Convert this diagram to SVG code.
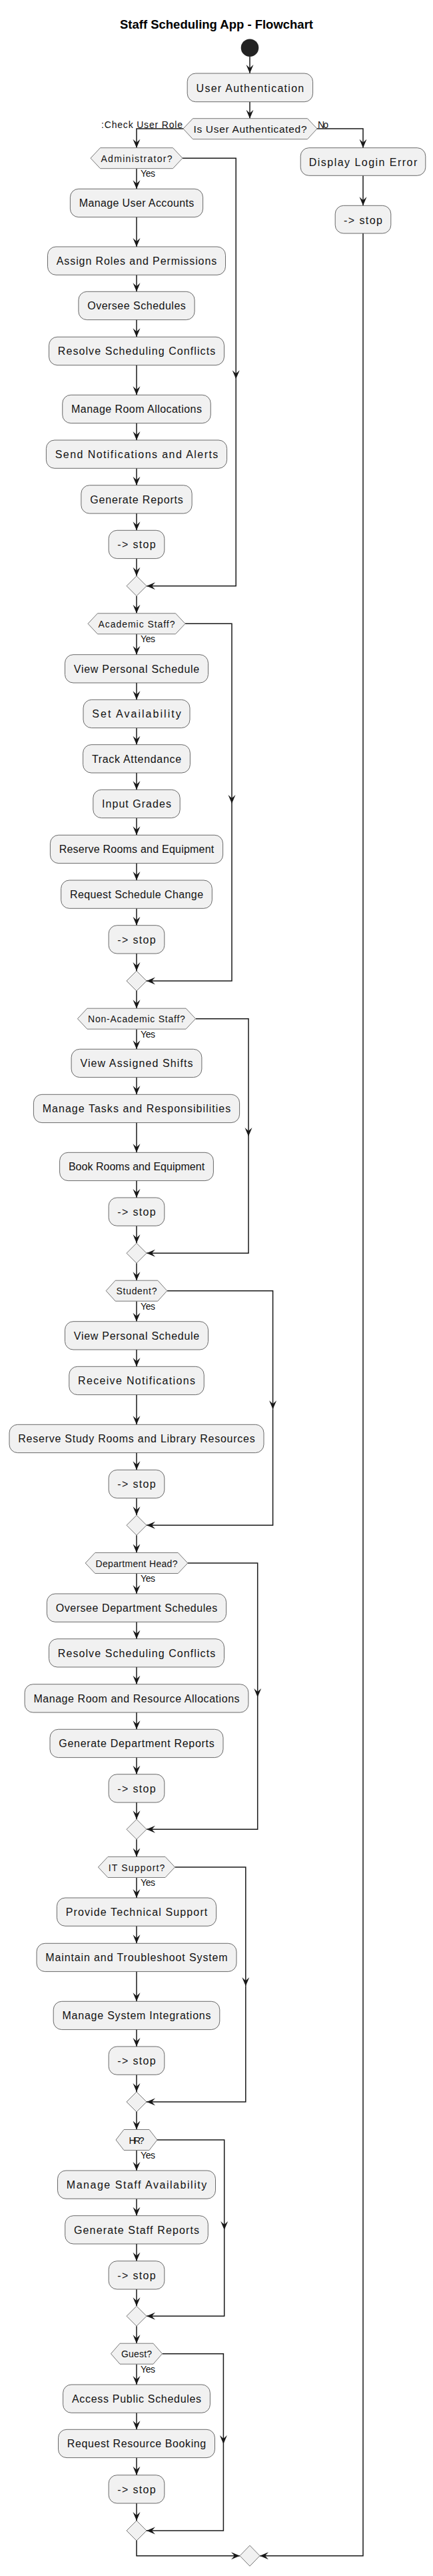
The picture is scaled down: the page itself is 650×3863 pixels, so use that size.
<svg xmlns="http://www.w3.org/2000/svg" xmlns:xlink="http://www.w3.org/1999/xlink" width="650" height="3863" viewBox="0 0 650 3863">
<style>
.act{fill:#F1F1F1;stroke:#444;stroke-width:0.8}
.hex{fill:#F1F1F1;stroke:#777;stroke-width:1}
.t{font-family:"Liberation Sans",Arial,sans-serif;font-size:16px;fill:#111;text-anchor:middle}
.ht{font-family:"Liberation Sans",Arial,sans-serif;font-size:14px;fill:#111;text-anchor:middle}
.lbl{font-family:"Liberation Sans",Arial,sans-serif;font-size:14px;fill:#111}
.title{font-family:"Liberation Sans",Arial,sans-serif;font-size:18.5px;font-weight:bold;fill:#000;text-anchor:middle}
.c{fill:none;stroke:#181818;stroke-width:1.5}
</style>
<defs>
<marker id="arr" markerUnits="userSpaceOnUse" markerWidth="14" markerHeight="12" refX="13" refY="6" orient="auto" viewBox="0 0 14 12">
<path d="M13,6 L0,0.5 L5,6 L0,11.5 Z" fill="#181818"/>
</marker>
</defs>
<rect width="650" height="3863" fill="#fff"/>
<text class="title" x="325" y="42.5" textLength="290">Staff Scheduling App - Flowchart</text>

<g id="connectors">
<path class="c" marker-end="url(#arr)" d="M375,85 V110"/>
<path class="c" marker-end="url(#arr)" d="M375,152.7 V177.7"/>
<path class="c" marker-end="url(#arr)" d="M275,193 H205 V221.7"/>
<path class="c" marker-end="url(#arr)" d="M476,193 H545 V221.7"/>
<path class="c" marker-end="url(#arr)" d="M545,263.3 V308.3"/>
<path class="c" marker-end="url(#arr)" d="M545,350 V3832.7 H390"/>
<path class="c" marker-end="url(#arr)" d="M205,3810 V3832.7 H360"/>
<!-- main column -->
<path class="c" marker-end="url(#arr)" d="M205,252.7 V283.3"/>
<path class="c" marker-end="url(#arr)" d="M205,325.6 V370"/>
<path class="c" marker-end="url(#arr)" d="M205,412.3 V437.3"/>
<path class="c" marker-end="url(#arr)" d="M205,479.6 V505.3"/>
<path class="c" marker-end="url(#arr)" d="M205,547.6 V592.3"/>
<path class="c" marker-end="url(#arr)" d="M205,634.6 V660"/>
<path class="c" marker-end="url(#arr)" d="M205,702.3 V727.7"/>
<path class="c" marker-end="url(#arr)" d="M205,770 V795.3"/>
<path class="c" marker-end="url(#arr)" d="M205,837.6 V863.7"/>
<path class="c" marker-end="url(#arr)" d="M205,893.7 V919.8"/>
<path class="c" marker-end="url(#arr)" d="M205,950.8 V981.7"/>
<path class="c" marker-end="url(#arr)" d="M205,1024 V1049.3"/>
<path class="c" marker-end="url(#arr)" d="M205,1091.6 V1116.7"/>
<path class="c" marker-end="url(#arr)" d="M205,1159 V1184.3"/>
<path class="c" marker-end="url(#arr)" d="M205,1226.6 V1252.3"/>
<path class="c" marker-end="url(#arr)" d="M205,1294.6 V1320"/>
<path class="c" marker-end="url(#arr)" d="M205,1362.3 V1387.7"/>
<path class="c" marker-end="url(#arr)" d="M205,1430 V1456"/>
<path class="c" marker-end="url(#arr)" d="M205,1486 V1512.2"/>
<path class="c" marker-end="url(#arr)" d="M205,1543.2 V1573.3"/>
<path class="c" marker-end="url(#arr)" d="M205,1615.6 V1641.3"/>
<path class="c" marker-end="url(#arr)" d="M205,1683.6 V1728.3"/>
<path class="c" marker-end="url(#arr)" d="M205,1770.6 V1796"/>
<path class="c" marker-end="url(#arr)" d="M205,1838.3 V1864.3"/>
<path class="c" marker-end="url(#arr)" d="M205,1894.3 V1920.2"/>
<path class="c" marker-end="url(#arr)" d="M205,1951.2 V1981.7"/>
<path class="c" marker-end="url(#arr)" d="M205,2024 V2049.3"/>
<path class="c" marker-end="url(#arr)" d="M205,2091.6 V2136.3"/>
<path class="c" marker-end="url(#arr)" d="M205,2178.6 V2204.3"/>
<path class="c" marker-end="url(#arr)" d="M205,2246.6 V2272.3"/>
<path class="c" marker-end="url(#arr)" d="M205,2302.3 V2328.5"/>
<path class="c" marker-end="url(#arr)" d="M205,2359.5 V2390"/>
<path class="c" marker-end="url(#arr)" d="M205,2432.3 V2457.7"/>
<path class="c" marker-end="url(#arr)" d="M205,2500 V2525.7"/>
<path class="c" marker-end="url(#arr)" d="M205,2568 V2593.3"/>
<path class="c" marker-end="url(#arr)" d="M205,2635.6 V2660.7"/>
<path class="c" marker-end="url(#arr)" d="M205,2703 V2728.3"/>
<path class="c" marker-end="url(#arr)" d="M205,2758.3 V2784.5"/>
<path class="c" marker-end="url(#arr)" d="M205,2815.5 V2846"/>
<path class="c" marker-end="url(#arr)" d="M205,2888.3 V2914.3"/>
<path class="c" marker-end="url(#arr)" d="M205,2956.6 V3001.3"/>
<path class="c" marker-end="url(#arr)" d="M205,3043.6 V3069"/>
<path class="c" marker-end="url(#arr)" d="M205,3111.3 V3137"/>
<path class="c" marker-end="url(#arr)" d="M205,3167 V3193.5"/>
<path class="c" marker-end="url(#arr)" d="M205,3224.5 V3255"/>
<path class="c" marker-end="url(#arr)" d="M205,3297.3 V3322.7"/>
<path class="c" marker-end="url(#arr)" d="M205,3365 V3390.7"/>
<path class="c" marker-end="url(#arr)" d="M205,3433 V3458.3"/>
<path class="c" marker-end="url(#arr)" d="M205,3488.3 V3514.2"/>
<path class="c" marker-end="url(#arr)" d="M205,3545.2 V3576"/>
<path class="c" marker-end="url(#arr)" d="M205,3618.3 V3643.3"/>
<path class="c" marker-end="url(#arr)" d="M205,3685.6 V3711.7"/>
<path class="c" marker-end="url(#arr)" d="M205,3754 V3780"/>
<!-- skip (no) branches -->
<path class="c" marker-end="url(#arr)" d="M274,237.2 H354.2 V568.3"/>
<path class="c" marker-end="url(#arr)" d="M354.2,568.3 V878.7 H220"/>
<path class="c" marker-end="url(#arr)" d="M278,935.3 H348 V1205"/>
<path class="c" marker-end="url(#arr)" d="M348,1205 V1471 H220"/>
<path class="c" marker-end="url(#arr)" d="M293.6,1527.7 H373 V1704"/>
<path class="c" marker-end="url(#arr)" d="M373,1704 V1879.3 H220"/>
<path class="c" marker-end="url(#arr)" d="M250.8,1935.7 H409.6 V2113.3"/>
<path class="c" marker-end="url(#arr)" d="M409.6,2113.3 V2287.3 H220"/>
<path class="c" marker-end="url(#arr)" d="M281.8,2344 H386.7 V2545"/>
<path class="c" marker-end="url(#arr)" d="M386.7,2545 V2743.3 H220"/>
<path class="c" marker-end="url(#arr)" d="M262.6,2800 H368.8 V2978.3"/>
<path class="c" marker-end="url(#arr)" d="M368.8,2978.3 V3152 H220"/>
<path class="c" marker-end="url(#arr)" d="M236,3209 H336.7 V3344"/>
<path class="c" marker-end="url(#arr)" d="M336.7,3344 V3473.3 H220"/>
<path class="c" marker-end="url(#arr)" d="M243.5,3529.7 H335.4 V3665"/>
<path class="c" marker-end="url(#arr)" d="M335.4,3665 V3795 H220"/>
</g>

<g id="labels">
<text class="lbl" x="274" y="191.5" text-anchor="end" textLength="122">:Check User Role</text>
<text class="lbl" x="477" y="191.5" textLength="16">No</text>
<text class="lbl" x="211" y="265" textLength="22">Yes</text>
<text class="lbl" x="211" y="963.3" textLength="22">Yes</text>
<text class="lbl" x="211" y="1555.5" textLength="22">Yes</text>
<text class="lbl" x="211" y="1963.5" textLength="22">Yes</text>
<text class="lbl" x="211" y="2372" textLength="22">Yes</text>
<text class="lbl" x="211" y="2828" textLength="22">Yes</text>
<text class="lbl" x="211" y="3237" textLength="22">Yes</text>
<text class="lbl" x="211" y="3558" textLength="22">Yes</text>
</g>

<g id="start"><circle cx="375" cy="71.7" r="13.3" fill="#222"/></g>

<g id="n_auth"><rect class="act" x="281.2" y="110" width="188.4" height="42.7" rx="12.5"/><text class="t" x="375.4" y="137.5" textLength="161.7">User Authentication</text></g>
<g id="d_auth"><polygon class="hex" points="275,193 289.5,177.7 461.5,177.7 476,193 461.5,208.7 289.5,208.7"/><text class="ht" x="375.5" y="199" style="font-size:15.5px" textLength="170">Is User Authenticated?</text></g>
<g id="n_loginerr"><rect class="act" x="451.2" y="221.7" width="187.6" height="41.6" rx="12.5"/><text class="t" x="545" y="248.7" textLength="162.5">Display Login Error</text></g>
<g id="n_stop0"><rect class="act" x="503.2" y="308.3" width="83.6" height="41.7" rx="12.5"/><text class="t" x="545" y="335.5" textLength="58">-&gt; stop</text></g>

<g id="d_admin"><polygon class="hex" points="136,237.2 150.5,221.7 259.5,221.7 274,237.2 259.5,252.7 150.5,252.7"/><text class="ht" x="205" y="242.6" textLength="107">Administrator?</text></g>
<g id="n_a1"><rect class="act" x="105.4" y="283.3" width="199.2" height="42.3" rx="12.5"/><text class="t" x="205" y="310.3" textLength="172.6">Manage User Accounts</text></g>
<g id="n_a2"><rect class="act" x="71.5" y="370" width="267" height="42.3" rx="12.5"/><text class="t" x="205" y="397" textLength="240.4">Assign Roles and Permissions</text></g>
<g id="n_a3"><rect class="act" x="117.9" y="437.3" width="174.2" height="42.3" rx="12.5"/><text class="t" x="205" y="464.3" textLength="147.6">Oversee Schedules</text></g>
<g id="n_a4"><rect class="act" x="73.5" y="505.3" width="263" height="42.3" rx="12.5"/><text class="t" x="205" y="532.3" textLength="236.4">Resolve Scheduling Conflicts</text></g>
<g id="n_a5"><rect class="act" x="93.75" y="592.3" width="222.5" height="42.3" rx="12.5"/><text class="t" x="205" y="619.3" textLength="195.9">Manage Room Allocations</text></g>
<g id="n_a6"><rect class="act" x="69.4" y="660" width="271.2" height="42.3" rx="12.5"/><text class="t" x="205" y="687" textLength="244.6">Send Notifications and Alerts</text></g>
<g id="n_a7"><rect class="act" x="121.85" y="727.7" width="166.3" height="42.3" rx="12.5"/><text class="t" x="205" y="754.7" textLength="139.7">Generate Reports</text></g>
<g id="n_a8"><rect class="act" x="163.15" y="795.3" width="83.7" height="42.3" rx="12.5"/><text class="t" x="205" y="822.3" textLength="57.5">-&gt; stop</text></g>
<g id="m_admin"><polygon class="hex" points="205,863.7 220,878.7 205,893.7 190,878.7"/></g>

<g id="d_acad"><polygon class="hex" points="132,935.3 146.5,919.8 263.5,919.8 278,935.3 263.5,950.8 146.5,950.8"/><text class="ht" x="205" y="941" textLength="115">Academic Staff?</text></g>
<g id="n_b1"><rect class="act" x="97.5" y="981.7" width="215" height="42.3" rx="12.5"/><text class="t" x="205" y="1008.7" textLength="188.4">View Personal Schedule</text></g>
<g id="n_b2"><rect class="act" x="125" y="1049.3" width="160" height="42.3" rx="12.5"/><text class="t" x="205" y="1076.3" textLength="133.4">Set Availability</text></g>
<g id="n_b3"><rect class="act" x="124.6" y="1116.7" width="160.8" height="42.3" rx="12.5"/><text class="t" x="205" y="1143.7" textLength="134.2">Track Attendance</text></g>
<g id="n_b4"><rect class="act" x="139.8" y="1184.3" width="130.4" height="42.3" rx="12.5"/><text class="t" x="205" y="1211.3" textLength="103.8">Input Grades</text></g>
<g id="n_b5"><rect class="act" x="75.4" y="1252.3" width="259.2" height="42.3" rx="12.5"/><text class="t" x="205" y="1279.3" textLength="232.6">Reserve Rooms and Equipment</text></g>
<g id="n_b6"><rect class="act" x="91.65" y="1320" width="226.7" height="42.3" rx="12.5"/><text class="t" x="205" y="1347" textLength="200.1">Request Schedule Change</text></g>
<g id="n_b7"><rect class="act" x="163.15" y="1387.7" width="83.7" height="42.3" rx="12.5"/><text class="t" x="205" y="1414.7" textLength="57.5">-&gt; stop</text></g>
<g id="m_acad"><polygon class="hex" points="205,1456 220,1471 205,1486 190,1471"/></g>

<g id="d_nonacad"><polygon class="hex" points="116.4,1527.7 130.9,1512.2 279.1,1512.2 293.6,1527.7 279.1,1543.2 130.9,1543.2"/><text class="ht" x="205" y="1533.4" textLength="145.8">Non-Academic Staff?</text></g>
<g id="n_c1"><rect class="act" x="107.1" y="1573.3" width="195.8" height="42.3" rx="12.5"/><text class="t" x="205" y="1600.3" textLength="169.2">View Assigned Shifts</text></g>
<g id="n_c2"><rect class="act" x="50.4" y="1641.3" width="309.2" height="42.3" rx="12.5"/><text class="t" x="205" y="1668.3" textLength="282.6">Manage Tasks and Responsibilities</text></g>
<g id="n_c3"><rect class="act" x="89.6" y="1728.3" width="230.8" height="42.3" rx="12.5"/><text class="t" x="205" y="1755.3" textLength="204.2">Book Rooms and Equipment</text></g>
<g id="n_c4"><rect class="act" x="163.15" y="1796" width="83.7" height="42.3" rx="12.5"/><text class="t" x="205" y="1823" textLength="57.5">-&gt; stop</text></g>
<g id="m_nonacad"><polygon class="hex" points="205,1864.3 220,1879.3 205,1894.3 190,1879.3"/></g>

<g id="d_student"><polygon class="hex" points="159.2,1935.7 173.2,1920.2 236.8,1920.2 250.8,1935.7 236.8,1951.2 173.2,1951.2"/><text class="ht" x="205" y="1941" textLength="61">Student?</text></g>
<g id="n_d1"><rect class="act" x="97.5" y="1981.7" width="215" height="42.3" rx="12.5"/><text class="t" x="205" y="2008.7" textLength="188.4">View Personal Schedule</text></g>
<g id="n_d2"><rect class="act" x="103.75" y="2049.3" width="202.5" height="42.3" rx="12.5"/><text class="t" x="205" y="2076.3" textLength="175.9">Receive Notifications</text></g>
<g id="n_d3"><rect class="act" x="14" y="2136.3" width="382" height="42.3" rx="12.5"/><text class="t" x="205" y="2163.3" textLength="355.4">Reserve Study Rooms and Library Resources</text></g>
<g id="n_d4"><rect class="act" x="163.15" y="2204.3" width="83.7" height="42.3" rx="12.5"/><text class="t" x="205" y="2231.3" textLength="57.5">-&gt; stop</text></g>
<g id="m_student"><polygon class="hex" points="205,2272.3 220,2287.3 205,2302.3 190,2287.3"/></g>

<g id="d_dept"><polygon class="hex" points="128.2,2344 142.7,2328.5 267.3,2328.5 281.8,2344 267.3,2359.5 142.7,2359.5"/><text class="ht" x="205" y="2349.8" textLength="123">Department Head?</text></g>
<g id="n_e1"><rect class="act" x="70.4" y="2390" width="269.2" height="42.3" rx="12.5"/><text class="t" x="205" y="2417" textLength="242.6">Oversee Department Schedules</text></g>
<g id="n_e2"><rect class="act" x="73.5" y="2457.7" width="263" height="42.3" rx="12.5"/><text class="t" x="205" y="2484.7" textLength="236.4">Resolve Scheduling Conflicts</text></g>
<g id="n_e3"><rect class="act" x="37.1" y="2525.7" width="335.8" height="42.3" rx="12.5"/><text class="t" x="205" y="2552.7" textLength="309.2">Manage Room and Resource Allocations</text></g>
<g id="n_e4"><rect class="act" x="75" y="2593.3" width="260" height="42.3" rx="12.5"/><text class="t" x="205" y="2620.3" textLength="233.4">Generate Department Reports</text></g>
<g id="n_e5"><rect class="act" x="163.15" y="2660.7" width="83.7" height="42.3" rx="12.5"/><text class="t" x="205" y="2687.7" textLength="57.5">-&gt; stop</text></g>
<g id="m_dept"><polygon class="hex" points="205,2728.3 220,2743.3 205,2758.3 190,2743.3"/></g>

<g id="d_it"><polygon class="hex" points="147.4,2800 161.9,2784.5 248.1,2784.5 262.6,2800 248.1,2815.5 161.9,2815.5"/><text class="ht" x="205" y="2805.8" textLength="84.7">IT Support?</text></g>
<g id="n_f1"><rect class="act" x="85.4" y="2846" width="239.2" height="42.3" rx="12.5"/><text class="t" x="205" y="2873" textLength="212.6">Provide Technical Support</text></g>
<g id="n_f2"><rect class="act" x="55" y="2914.3" width="300" height="42.3" rx="12.5"/><text class="t" x="205" y="2941.3" textLength="273.4">Maintain and Troubleshoot System</text></g>
<g id="n_f3"><rect class="act" x="80.2" y="3001.3" width="249.6" height="42.3" rx="12.5"/><text class="t" x="205" y="3028.3" textLength="223">Manage System Integrations</text></g>
<g id="n_f4"><rect class="act" x="163.15" y="3069" width="83.7" height="42.3" rx="12.5"/><text class="t" x="205" y="3096" textLength="57.5">-&gt; stop</text></g>
<g id="m_it"><polygon class="hex" points="205,3137 220,3152 205,3167 190,3152"/></g>

<g id="d_hr"><polygon class="hex" points="174,3209 186,3193.5 224,3193.5 236,3209 224,3224.5 186,3224.5"/><text class="ht" x="205" y="3214.8" textLength="23">HR?</text></g>
<g id="n_g1"><rect class="act" x="86.5" y="3255" width="237" height="42.3" rx="12.5"/><text class="t" x="205" y="3282" textLength="210.4">Manage Staff Availability</text></g>
<g id="n_g2"><rect class="act" x="97.7" y="3322.7" width="214.6" height="42.3" rx="12.5"/><text class="t" x="205" y="3349.7" textLength="188">Generate Staff Reports</text></g>
<g id="n_g3"><rect class="act" x="163.15" y="3390.7" width="83.7" height="42.3" rx="12.5"/><text class="t" x="205" y="3417.7" textLength="57.5">-&gt; stop</text></g>
<g id="m_hr"><polygon class="hex" points="205,3458.3 220,3473.3 205,3488.3 190,3473.3"/></g>

<g id="d_guest"><polygon class="hex" points="166.5,3529.7 180,3514.2 230,3514.2 243.5,3529.7 230,3545.2 180,3545.2"/><text class="ht" x="205" y="3535.3" textLength="46">Guest?</text></g>
<g id="n_h1"><rect class="act" x="94.6" y="3576" width="220.8" height="42.3" rx="12.5"/><text class="t" x="205" y="3603" textLength="194.2">Access Public Schedules</text></g>
<g id="n_h2"><rect class="act" x="87.5" y="3643.3" width="235" height="42.3" rx="12.5"/><text class="t" x="205" y="3670.3" textLength="208.4">Request Resource Booking</text></g>
<g id="n_h3"><rect class="act" x="163.15" y="3711.7" width="83.7" height="42.3" rx="12.5"/><text class="t" x="205" y="3738.7" textLength="57.5">-&gt; stop</text></g>
<g id="m_guest"><polygon class="hex" points="205,3780 220,3795 205,3810 190,3795"/></g>

<g id="m_final"><polygon class="hex" points="375,3817.2 390,3832.7 375,3848.2 360,3832.7"/></g>
</svg>
